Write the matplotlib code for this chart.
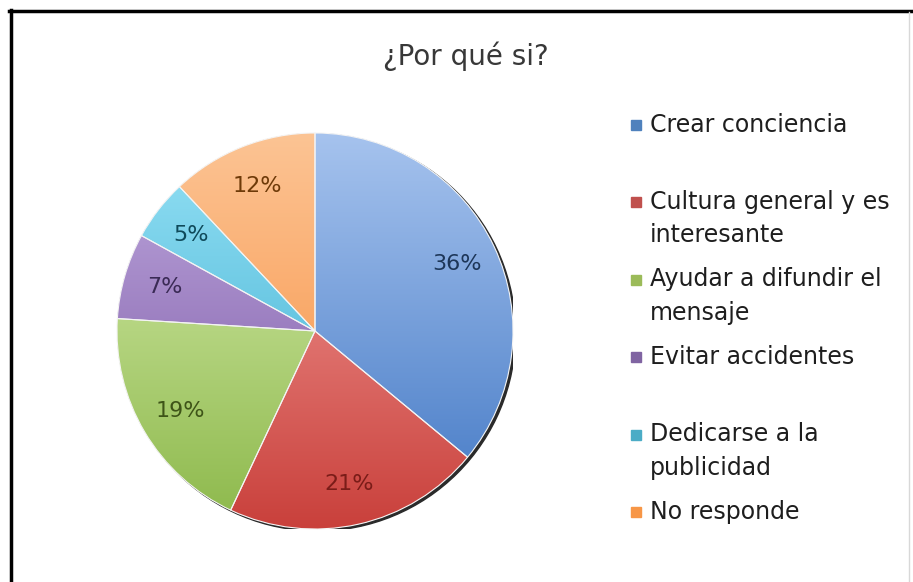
import matplotlib.pyplot as plt
import numpy as np
from matplotlib.colors import LinearSegmentedColormap
from matplotlib.patches import Circle, Rectangle
from matplotlib.lines import Line2D

title = "¿Por qué si?"
labels = ["Crear conciencia", "Cultura general y es\ninteresante",
          "Ayudar a difundir el\nmensaje", "Evitar accidentes",
          "Dedicarse a la\npublicidad", "No responde"]
values = [36, 21, 19, 7, 5, 12]

# office-style palette: base, light top, dark bottom, label text
base = ["#4f81bd", "#c0504d", "#9bbb59", "#8064a2", "#4bacc6", "#f79646"]
light = ["#a6c3ee", "#f7a6a3", "#dcf0b4", "#c2ace0", "#96e2f6", "#fcc494"]
dark = ["#4177c4", "#c9403b", "#8cb84a", "#7450a0", "#35a8cc", "#f78b3a"]
txt = ["#1d3658", "#7a1c18", "#3e5418", "#3a2a55", "#0f4a5a", "#6e3a08"]

FONT = "DejaVu Sans"
W, H = 913, 582
fig = plt.figure(figsize=(W / 100, H / 100), dpi=100)
fig.patch.set_facecolor("white")

# pie axes placed in pixel coordinates
cx, cy, r = 315, 331, 198
ax = fig.add_axes([(cx - r) / W, (H - cy - r) / H, 2 * r / W, 2 * r / H])
ax.axis("off")

# dark rim on the lower right of the pie
ax.add_patch(Circle((0.013, -0.01), 1.0, color="#2a2a2a", zorder=0.5))

wedges, _ = ax.pie(values, colors=base, startangle=90, counterclock=False,
                   radius=1.0, wedgeprops=dict(linewidth=0))

grad = np.linspace(0, 1, 256).reshape(-1, 1)
for w, lc, dc in zip(wedges, light, dark):
    cmap = LinearSegmentedColormap.from_list("g", [lc, dc])
    im = ax.imshow(grad, cmap=cmap, extent=(-1, 1, -1, 1), aspect="auto",
                   origin="upper", zorder=2)
    im.set_clip_path(w)

# thin light separators between slices
sep, _ = ax.pie(values, colors=["none"] * len(values), startangle=90,
                counterclock=False, radius=1.0,
                wedgeprops=dict(linewidth=0.8, edgecolor="#f4f4f4"))
for w in sep:
    w.set_zorder(3)
ax.set_xlim(-1, 1)
ax.set_ylim(-1, 1)

# percentage labels at slice midpoints
angles = 90 - 360 * (np.cumsum(values) - np.array(values) / 2) / sum(values)
for v, a, c in zip(values, angles, txt):
    d = 0.79
    ax.text(d * np.cos(np.radians(a)), d * np.sin(np.radians(a)), f"{v}%",
            ha="center", va="center", fontsize=16, color=c,
            family=FONT, zorder=4)

fig.text(466 / W, 1 - 56 / H, title, ha="center", va="center",
         fontsize=20, color="#383838", family=FONT)

# legend entries
for i, (lab, c) in enumerate(zip(labels, base)):
    y = 123 + i * 77.4
    fig.patches.append(Rectangle((631 / W, 1 - (y + 7) / H), 10 / W, 10 / H,
                                 transform=fig.transFigure, color=c))
    fig.text(650 / W, 1 - (y - 10.5) / H, lab, ha="left", va="top",
             fontsize=17, color="#1e1e1e", family=FONT,
             linespacing=1.5)

# frame lines on the left and top edges
fig.add_artist(Line2D([10.5 / W, 10.5 / W], [0, 1 - 10 / H], color="black",
                      lw=2.5, transform=fig.transFigure))
fig.add_artist(Line2D([9 / W, 1], [1 - 10.5 / H, 1 - 10.5 / H], color="black",
                      lw=2.5, transform=fig.transFigure))
fig.add_artist(Line2D([909 / W, 909 / W], [0, 1 - 12 / H], color="#d8d8d8",
                      lw=1, transform=fig.transFigure))

fig.savefig("out.png", dpi=100)
